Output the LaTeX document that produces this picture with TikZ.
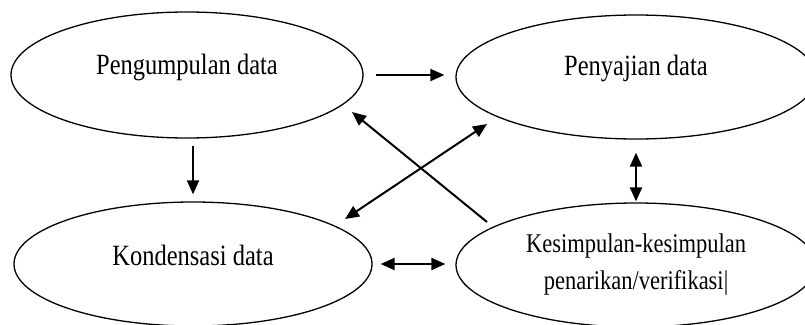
\documentclass[tikz,border=0pt]{standalone}
\usepackage{fontspec}
\setmainfont{Liberation Serif}
\usetikzlibrary{shapes.geometric,arrows.meta,calc}

\newcommand{\tallbox}[1]{\scalebox{1}[1.2]{#1}}

\tikzset{
	blob/.style={draw, ellipse, line width=1.3pt, inner sep=0pt},
	arrow/.style={-{Triangle[length=14pt,width=12pt]}, line width=2pt},
	twoway/.style={{Triangle[length=14pt,width=12pt]}-{Triangle[length=14pt,width=12pt]}, line width=2pt}
}

\begin{document}
\begin{tikzpicture}[x=1pt, y=-1pt, font=\fontsize{24.5}{39}\selectfont]

	\useasboundingbox (0,0) rectangle (805,324);

	% Node definitions.
	\node[blob, minimum width=352pt, minimum height=126pt,
		label={[anchor=base, yshift=8pt]center:\tallbox{Pengumpulan data}}]
		(pengumpulan) at (187,75) {};
	\node[blob, minimum width=360pt, minimum height=124pt,
		label={[anchor=base, yshift=9pt]center:\tallbox{Penyajian data}}]
		(penyajian) at (636,77) {};
	\node[blob, minimum width=358pt, minimum height=124pt,
		label={[anchor=base, yshift=9pt]center:\tallbox{Kondensasi data}}]
		(kondensasi) at (193,264) {};
	\node[blob, minimum width=360pt, minimum height=124pt, align=center,
		font=\fontsize{22.5}{37}\selectfont]
		(kesimpulan) at (636,265)
		{\tallbox{Kesimpulan-kesimpulan}\\ \tallbox{penarikan/verifikasi|}};

	% Arrows.
	\draw[arrow, shorten <=12pt, shorten >=11pt] (pengumpulan.east) -- (pengumpulan.east -| penyajian.west);
	\draw[arrow, shorten <=7pt, shorten >=7pt] (kondensasi.north |- pengumpulan.south) -- (kondensasi.north);
	\draw[twoway, shorten <=13pt, shorten >=1pt] (penyajian.south) -- (penyajian.south |- kesimpulan.north);
	\draw[twoway, shorten <=8pt, shorten >=10pt] (kondensasi.east) -- (kondensasi.east -| kesimpulan.west);
	\draw[arrow] ($(kesimpulan.center)+(-149,-43)$) -- ($(pengumpulan.center)+(165,37)$);
	\draw[twoway] ($(kondensasi.center)+(152,-45)$) -- ($(penyajian.center)+(-149,47)$);

\end{tikzpicture}
\end{document}
